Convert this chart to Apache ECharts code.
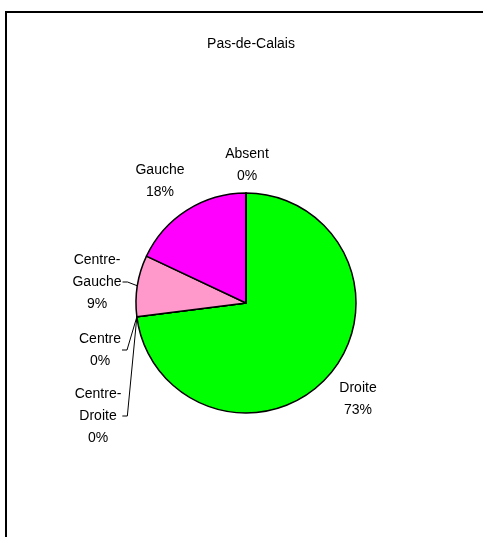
<!DOCTYPE html>
<html>
<head>
<meta charset="utf-8">
<script src="https://cdn.jsdelivr.net/npm/echarts@6/dist/echarts.min.js"></script>
<style>
html,body{margin:0;padding:0;background:#fff;}
#chart{width:483px;height:537px;}
</style>
</head>
<body>
<div id="chart"></div>
<script>
const title = 'Pas-de-Calais';
const categories = ['Droite', 'Centre-Droite', 'Centre', 'Centre-Gauche', 'Gauche', 'Absent'];
const values = [73, 0, 0, 9, 18, 0];
const colors = ['#00FF00', '#FFCC99', '#FFFF99', '#FF99CC', '#FF00FF', '#C0C0C0'];
const showLeader = [false, true, true, true, false, false];
// label box centres (layout only)
const labelPos = [[358, 399], [98, 416], [100, 350], [97, 282], [160, 181], [247, 165]];

const chart = echarts.init(document.getElementById('chart'), null, {renderer: 'canvas'});
const font = '"Liberation Sans", Arial, sans-serif';

function edgePoint(idx) {
  const lay = chart.getModel().getSeriesByIndex(0).getData().getItemLayout(idx);
  const mid = (lay.startAngle + lay.endAngle) / 2;
  return [lay.cx + lay.r * Math.cos(mid), lay.cy + lay.r * Math.sin(mid)];
}

chart.setOption({
  animation: false,
  backgroundColor: '#fff',
  title: {
    text: title,
    left: 246,
    top: 32,
    textAlign: 'center',
    textStyle: {fontFamily: font, fontSize: 14, fontWeight: 'normal', color: '#000'}
  },
  graphic: [{
    type: 'polyline',
    shape: {points: [[6, 540], [6, 12], [490, 12]]},
    style: {stroke: '#000', lineWidth: 2, fill: null},
    silent: true
  }],
  series: [{
    type: 'pie',
    center: [246, 303],
    radius: 110,
    startAngle: 90,
    clockwise: true,
    avoidLabelOverlap: false,
    percentPrecision: 0,
    itemStyle: {borderColor: '#000', borderWidth: 1.5},
    label: {
      show: true,
      position: 'outside',
      fontFamily: font,
      fontSize: 14,
      color: '#000',
      lineHeight: 22,
      align: 'center',
      formatter: p => p.name.replace('-', '-\n') + '\n' + p.percent + '%'
    },
    labelLine: {show: true, length: 6, length2: 6, lineStyle: {color: '#000', width: 1}},
    emphasis: {disabled: true},
    labelLayout: p => {
      const i = p.dataIndex;
      const x = labelPos[i][0], y = labelPos[i][1];
      const res = {x: x, y: y, align: 'center', verticalAlign: 'middle'};
      if (showLeader[i]) {
        const right = x + p.labelRect.width / 2 + 1;
        res.labelLinePoints = [edgePoint(i), [right + 5, y], [right, y]];
      }
      return res;
    },
    data: categories.map((c, i) => ({
      name: c,
      value: values[i],
      itemStyle: {color: colors[i]},
      labelLine: {show: showLeader[i]}
    }))
  }]
});
</script>
</body>
</html>
